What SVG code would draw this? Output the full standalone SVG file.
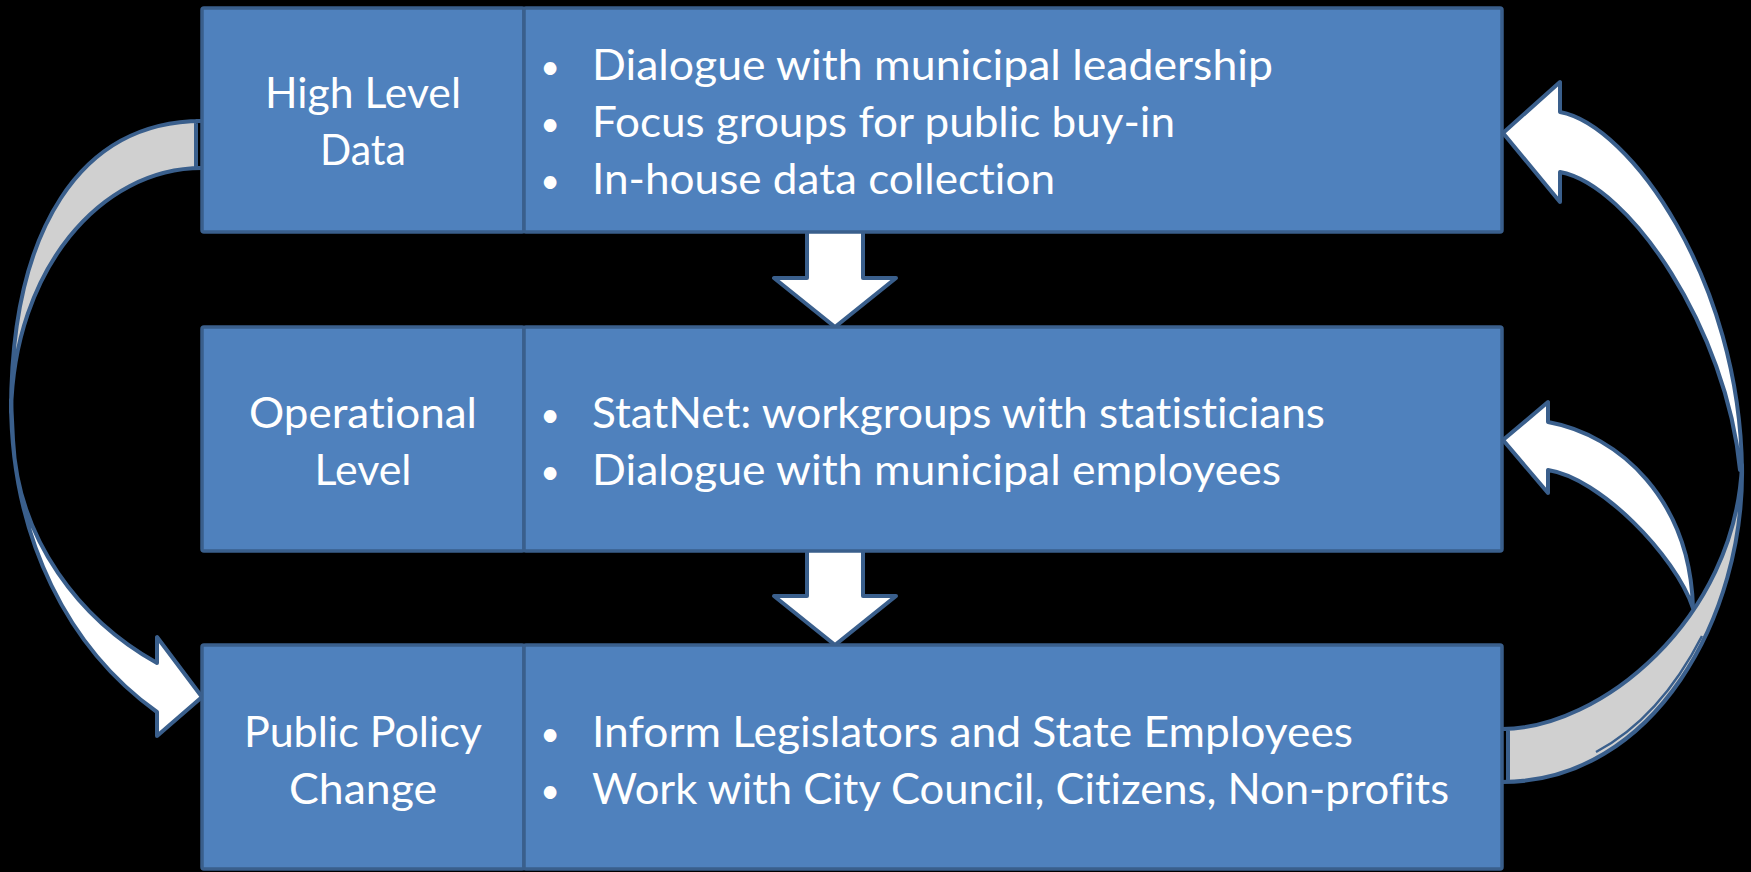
<svg xmlns="http://www.w3.org/2000/svg" width="1751" height="872" viewBox="0 0 1751 872">
<style>
.bg{fill:#000}
.cell{fill:#4F81BD;stroke:#3A5F8C;stroke-width:3.5}
.arr{fill:#FFFFFF;stroke:#3A5F8C;stroke-width:4;stroke-linejoin:round}
.back{fill:#D0D0D0;stroke:#3A5F8C;stroke-width:4;stroke-linejoin:round}
.edge{fill:none;stroke:#3A5F8C;stroke-width:2.5}
text{font-family:Lato,"Open Sans","Liberation Sans",sans-serif;font-size:42px;fill:#FFFFFF;font-variant-ligatures:none;font-feature-settings:"liga" 0,"clig" 0}
.c{text-anchor:middle}
.b{text-anchor:middle;font-size:34px}
</style>
<rect class="bg" x="0" y="0" width="1751" height="872"/>
<g id="connectors">
  <path class="arr" d="M807,230 L863,230 L863,278 L896,278 L835,327 L774,278 L807,278 Z"/>
  <path class="arr" d="M807,549 L863,549 L863,596 L896,596 L835,645 L774,596 L807,596 Z"/>
  <path class="back" d="M196,121 L202,121 C80,121 11,230 11,412 C14,270 100,168 202,168 L196,168 Z"/>
  <path class="arr" d="M11,400 C11,540 70,650 157,712 L157,736 L202,697 L157,637 L157,663 C80,620 18,540 13,440 Z"/>
  <path class="arr" d="M1503,133 L1560,82 L1560,112 C1630,125 1740,280 1742,470 L1740,470 C1727,330 1630,185 1560,172 L1560,202 Z"/>
  <path class="arr" d="M1503,440 L1548,402 L1548,422 C1620,435 1690,500 1693,608 C1675,555 1600,478 1548,470 L1548,493 Z"/>
  <path class="back" d="M1508,729 L1502,729 C1600,729 1735,620 1742,465 C1745,615 1655,782 1502,782 L1508,782 Z"/>
  <path class="edge" d="M1702,636 Q1660,718 1596,752"/>
</g>
<g id="node-high-level">
  <rect class="cell" x="202" y="8" width="322" height="224" rx="2"/>
  <rect class="cell" x="524" y="8" width="978" height="224" rx="2"/>
  <text class="c" x="363" y="108" textLength="196" lengthAdjust="spacingAndGlyphs">High Level</text>
  <text class="c" x="363" y="165" textLength="86" lengthAdjust="spacingAndGlyphs">Data</text>
  <text class="b" x="550" y="79">•</text>
  <text x="592" y="80" textLength="681" lengthAdjust="spacingAndGlyphs">Dialogue with municipal leadership</text>
  <text class="b" x="550" y="136">•</text>
  <text x="592" y="137" textLength="583" lengthAdjust="spacingAndGlyphs">Focus groups for public buy-in</text>
  <text class="b" x="550" y="193">•</text>
  <text x="592" y="194" textLength="463" lengthAdjust="spacingAndGlyphs">In-house data collection</text>
</g>
<g id="node-operational">
  <rect class="cell" x="202" y="327" width="322" height="224" rx="2"/>
  <rect class="cell" x="524" y="327" width="978" height="224" rx="2"/>
  <text class="c" x="363" y="428" textLength="228" lengthAdjust="spacingAndGlyphs">Operational</text>
  <text class="c" x="363" y="485" textLength="97" lengthAdjust="spacingAndGlyphs">Level</text>
  <text class="b" x="550" y="427">•</text>
  <text x="592" y="428" textLength="733" lengthAdjust="spacingAndGlyphs">StatNet: workgroups with statisticians</text>
  <text class="b" x="550" y="484">•</text>
  <text x="592" y="485" textLength="689" lengthAdjust="spacingAndGlyphs">Dialogue with municipal employees</text>
</g>
<g id="node-public-policy">
  <rect class="cell" x="202" y="645" width="322" height="224" rx="2"/>
  <rect class="cell" x="524" y="645" width="978" height="224" rx="2"/>
  <text class="c" x="363" y="747" textLength="238" lengthAdjust="spacingAndGlyphs">Public Policy</text>
  <text class="c" x="363" y="804" textLength="148" lengthAdjust="spacingAndGlyphs">Change</text>
  <text class="b" x="550" y="746">•</text>
  <text x="592" y="747" textLength="761" lengthAdjust="spacingAndGlyphs">Inform Legislators and State Employees</text>
  <text class="b" x="550" y="803">•</text>
  <text x="592" y="804" textLength="857" lengthAdjust="spacingAndGlyphs">Work with City Council, Citizens, Non-profits</text>
</g>
</svg>
